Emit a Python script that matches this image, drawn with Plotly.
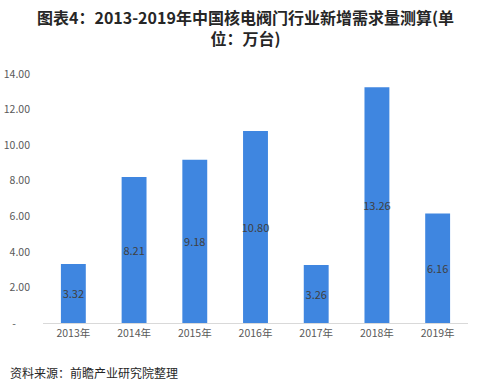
import plotly.graph_objects as go

years = ["2013年", "2014年", "2015年", "2016年", "2017年", "2018年", "2019年"]
values = [3.32, 8.21, 9.18, 10.80, 3.26, 13.26, 6.16]
ytick_vals = [0, 2, 4, 6, 8, 10, 12, 14]
ytick_text = ["-\u00a0\u00a0\u00a0\u00a0\u00a0\u00a0", "2.00", "4.00", "6.00", "8.00", "10.00", "12.00", "14.00"]
title_lines = ["图表4：2013-2019年中国核电阀门行业新增需求量测算(单", "位：万台)"]
source_text = "资料来源：前瞻产业研究院整理"

font_cjk = "Noto Sans CJK SC, Microsoft YaHei, sans-serif"

fig = go.Figure()
fig.add_trace(go.Bar(
    x=years, y=values,
    marker=dict(color="#3F86E0", line=dict(width=0)),
    text=[f"{v:.2f}" for v in values],
    textposition="inside",
    insidetextanchor="middle",
    textangle=0,
    textfont=dict(color="#404040", size=11, family=font_cjk),
    constraintext="none",
    cliponaxis=False,
    hoverinfo="skip",
))

H = 249.0  # plot height in px
W = 425.0  # plot width in px
annotations = [
    dict(text=f"<b>{title_lines[0]}<br>{title_lines[1]}</b>", xref="paper", yref="paper",
         x=(245 - 43) / W, y=(323 - 28) / H, xanchor="center", yanchor="middle", align="center",
         showarrow=False, font=dict(size=16, color="#262626", family=font_cjk)),
    dict(text=source_text, xref="paper", yref="paper",
         x=(8 - 43) / W, y=(323 - 372) / H,
         xanchor="left", yanchor="middle", showarrow=False,
         font=dict(size=12, color="#262626", family=font_cjk)),
]

fig.update_layout(
    width=490, height=392,
    paper_bgcolor="white", plot_bgcolor="white",
    margin=dict(l=43, r=22, t=74, b=69, autoexpand=False),
    bargap=0.59,
    showlegend=False,
    uniformtext=dict(minsize=11, mode="show"),
    font=dict(family=font_cjk, color="#595959"),
    xaxis=dict(
        showline=True, linecolor="#D9D9D9", linewidth=1, automargin=False,
        ticks="", tickfont=dict(size=10.5, color="#595959"),
        showgrid=False, zeroline=False,
    ),
    yaxis=dict(
        range=[0, 14], tickvals=ytick_vals, ticktext=ytick_text, automargin=False,
        showgrid=False, zeroline=False, showline=False, ticklabelstandoff=12,
        tickfont=dict(size=10.5, color="#595959"), ticks="",
    ),
    annotations=annotations,
)

fig.write_html(
    "out.html",
    config={"displayModeBar": False},
    post_script="document.body.style.margin='0';document.body.style.overflow='hidden';",
)
